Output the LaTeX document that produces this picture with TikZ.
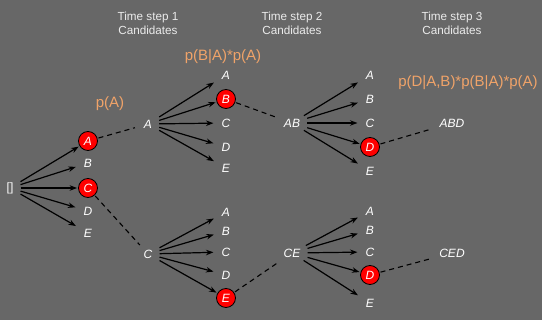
\documentclass[tikz,border=0pt]{standalone}
\usepackage{fontspec}
\setmainfont{Liberation Sans}
\usetikzlibrary{arrows.meta}
\definecolor{bg}{RGB}{103,103,103}
\definecolor{prob}{RGB}{240,163,105}
\definecolor{hdr}{RGB}{235,235,235}
\begin{document}
\begin{tikzpicture}[x=1pt,y=-1pt,
 lab/.style={text=white,font=\fontsize{12}{12}\selectfont\itshape, inner xsep=7pt, inner ysep=3pt},
 sel/.style={circle, draw=black, fill=red, line width=0.8pt, minimum size=19pt, inner sep=0pt, text=white, font=\fontsize{12}{12}\selectfont\itshape},
 hdrtxt/.style={text=hdr, font=\fontsize{11.7}{14}\selectfont, align=center},
 probtxt/.style={text=prob, font=\fontsize{15}{16}\selectfont},
 arr/.style={-{Stealth[length=7.5pt,width=5.5pt]}, line width=1.2pt, draw=black, shorten >=1pt},
 dsh/.style={dash pattern=on 5pt off 4pt, line width=1.1pt, draw=black, shorten <=1pt, shorten >=2pt}
]
\fill[bg] (0,0) rectangle (542,320);
\useasboundingbox (0,0) rectangle (542,320);

% headers
\node[hdrtxt] (h1) at (148,23) {Time step 1\\Candidates};
\node[hdrtxt] (h2) at (292,23) {Time step 2\\Candidates};
\node[hdrtxt] (h3) at (452,23) {Time step 3\\Candidates};

% probabilities
\node[probtxt] (pa) at (110,104) {p(A)};
\node[probtxt] (pba) at (223,57) {p(B|A)*p(A)};
\node[probtxt] (pdab) at (468,83) {p(D|A,B)*p(B|A)*p(A)};

% root
\node[lab, font=\fontsize{12}{12}\selectfont] (r) at (10,188) {[]};

% level 1
\node[sel] (l1a) at (88,141) {A};
\node[lab] (l1b) at (88,163) {B};
\node[sel] (l1c) at (88,188) {C};
\node[lab] (l1d) at (88,211) {D};
\node[lab] (l1e) at (88,233) {E};
\foreach \t in {l1a,l1b,l1c,l1d,l1e} \draw[arr] (r) -- (\t);

% upper branch level 2
\node[lab] (p2a) at (148,124) {A};
\node[lab] (u2a) at (226,75) {A};
\node[sel] (u2b) at (226,99) {B};
\node[lab] (u2c) at (226,123) {C};
\node[lab] (u2d) at (226,147) {D};
\node[lab] (u2e) at (226,168) {E};
\foreach \t in {u2a,u2b,u2c,u2d,u2e} \draw[arr] (p2a) -- (\t);

% upper branch level 3
\node[lab] (p3u) at (292,123) {AB};
\node[lab] (u3a) at (370,75) {A};
\node[lab] (u3b) at (370,99) {B};
\node[lab] (u3c) at (370,123) {C};
\node[sel] (u3d) at (370,147) {D};
\node[lab] (u3e) at (370,171) {E};
\foreach \t in {u3a,u3b,u3c,u3d,u3e} \draw[arr] (p3u) -- (\t);
\node[lab] (fu) at (452,123) {ABD};

% lower branch level 2
\node[lab] (p2c) at (148,254) {C};
\node[lab] (d2a) at (226,212) {A};
\node[lab] (d2b) at (226,231) {B};
\node[lab] (d2c) at (226,252) {C};
\node[lab] (d2d) at (226,275) {D};
\node[sel] (d2e) at (226,298) {E};
\foreach \t in {d2a,d2b,d2c,d2d,d2e} \draw[arr] (p2c) -- (\t);

% lower branch level 3
\node[lab] (p3d) at (292,253) {CE};
\node[lab] (d3a) at (370,211) {A};
\node[lab] (d3b) at (370,230) {B};
\node[lab] (d3c) at (370,252) {C};
\node[sel] (d3d) at (370,275) {D};
\node[lab] (d3e) at (370,303) {E};
\foreach \t in {d3a,d3b,d3c,d3d,d3e} \draw[arr] (p3d) -- (\t);
\node[lab] (fd) at (452,253) {CED};

% dashed selections
\draw[dsh] (l1a) -- (p2a);
\draw[dsh] (l1c) -- (p2c);
\draw[dsh] (u2b) -- (p3u);
\draw[dsh] (d2e) -- (p3d);
\draw[dsh] (u3d) -- (fu);
\draw[dsh] (d3d) -- (fd);
\end{tikzpicture}
\end{document}
